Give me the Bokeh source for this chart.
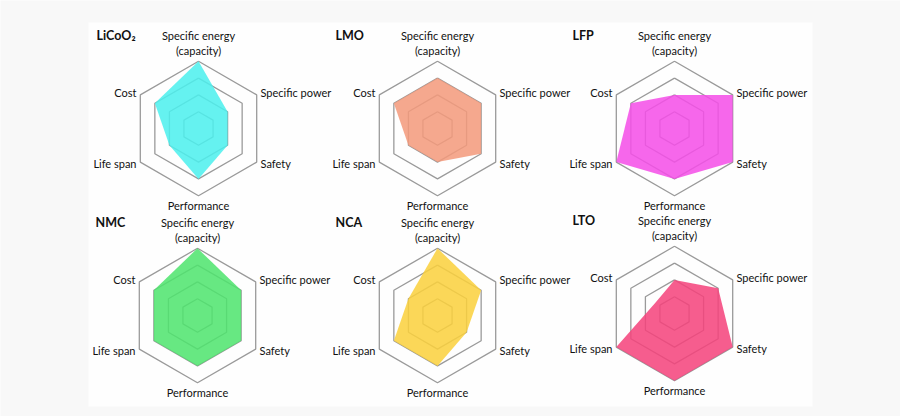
import numpy as np
from bokeh.plotting import figure
from bokeh.models import Range1d
from bokeh.embed import file_html
from bokeh.resources import INLINE
from bokeh.core.properties import value

# ---- data -------------------------------------------------------------
axis_names = ["Specific energy", "Specific power", "Safety", "Performance", "Life span", "Cost"]
chemistries = ["LiCoO₂", "LMO", "LFP", "NMC", "NCA", "LTO"]
licoo2 = [4, 2, 2, 3, 2, 3]
lmo = [3, 3, 3, 2, 2, 3]
lfp = [2, 4, 4, 3, 4, 3]
nmc = [4, 3, 3, 3, 3, 3]
nca = [4, 3, 2, 3, 3, 2]
lto = [2, 3, 4, 4, 4, 1.3]
grid_levels = [1, 2, 3, 4]
series = [licoo2, lmo, lfp, nmc, nca, lto]
colors = ["#4cf0ee", "#f39a7c", "#f44ee8", "#4ee46e", "#fad03c", "#f4427c"]

# ---- layout -----------------------------------------------------------
centers = [(198, 128), (437, 128), (674, 128), (197, 315), (437, 315), (674, 313)]
unit = 16.8
angles = np.deg2rad([90, 30, -30, -90, -150, 150])
FONT = "Lato"

p = figure(width=900, height=416, output_backend="svg", toolbar_location=None,
           x_range=Range1d(0, 900), y_range=Range1d(416, 0),
           x_axis_type=None, y_axis_type=None, min_border=0)
p.grid.visible = False
p.outline_line_color = None
p.background_fill_color = "#f8f8f8"
p.border_fill_color = "#ffffff"

# subtle white panel
p.quad(left=[88], right=[812], top=[22], bottom=[406], fill_color="#fefefe", line_color=None)

def pts(cx, cy, vals):
    r = np.asarray(vals, dtype=float) * unit
    xs = cx + r * np.cos(angles)
    ys = cy - r * np.sin(angles)
    return list(xs), list(ys)

for (cx, cy), name, vals, col in zip(centers, chemistries, series, colors):
    # grid hexagons
    gx, gy = [], []
    for lv in grid_levels:
        xs, ys = pts(cx, cy, [lv] * 6)
        gx.append(xs + [xs[0]])
        gy.append(ys + [ys[0]])
    p.multi_line(gx, gy, line_color="#9a9a9a", line_width=1.3)
    # data polygon
    xs, ys = pts(cx, cy, vals)
    p.patch(xs, ys, fill_color=col, fill_alpha=0.86, line_color=None)

    # labels
    tkw = dict(text_font=value(FONT), text_font_size="11px", text_color="#111111",
               text_baseline="middle")
    p.text(x=[cx, cx], y=[cy - 93, cy - 78], text=[axis_names[0], "(capacity)"],
           text_align="center", **tkw)
    p.text(x=[cx + 62, cx + 62], y=[cy - 36, cy + 35], text=[axis_names[1], axis_names[2]],
           text_align="left", **tkw)
    p.text(x=[cx], y=[cy + 77], text=[axis_names[3]], text_align="center", **tkw)
    p.text(x=[cx - 62, cx - 62], y=[cy + 35, cy - 36], text=[axis_names[4], axis_names[5]],
           text_align="right", **tkw)
    p.text(x=[cx - 102], y=[cy - 93], text=[name], text_align="left",
           text_font=value(FONT), text_font_size="12.5px", text_font_style="bold",
           text_color="#111111", text_baseline="middle")

open("out.html", "w").write(file_html(p, INLINE))
